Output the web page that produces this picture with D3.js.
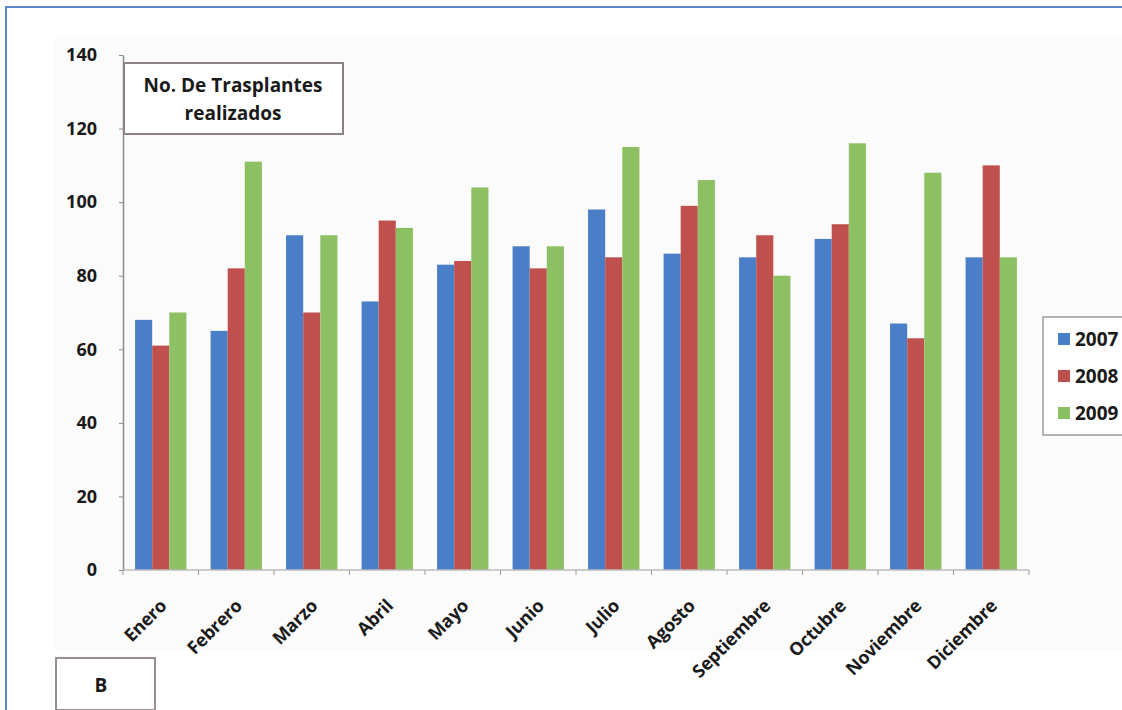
<!DOCTYPE html>
<html>
<head>
<meta charset="utf-8">
<script src="https://cdn.jsdelivr.net/npm/d3@7"></script>
<style>
  html, body { margin: 0; padding: 0; background: #ffffff; }
  svg { display: block; }
  text { font-family: "Open Sans", "DejaVu Sans", sans-serif; font-weight: 700; fill: #1a1a1a; }
</style>
</head>
<body>
<svg id="chart" width="1122" height="710"></svg>
<script>
// Monthly transplant counts per year
const months = ["Enero", "Febrero", "Marzo", "Abril", "Mayo", "Junio", "Julio",
                "Agosto", "Septiembre", "Octubre", "Noviembre", "Diciembre"];
const years = ["2007", "2008", "2009"];
const values2007 = [68, 65, 91, 73, 83, 88, 98, 86, 85, 90, 67, 85];
const values2008 = [61, 82, 70, 95, 84, 82, 85, 99, 91, 94, 63, 110];
const values2009 = [70, 111, 91, 93, 104, 88, 115, 106, 80, 116, 108, 85];
const yTicks = [0, 20, 40, 60, 80, 100, 120, 140];
const colors = ["#4a7ec6", "#c0504d", "#8cc063"];

const series = [values2007, values2008, values2009];
const rows = months.map((m, i) => ({ month: m, vals: series.map(s => s[i]) }));

const svg = d3.select("#chart");

// page frame
svg.append("line").attr("x1", 6).attr("x2", 1122).attr("y1", 7).attr("y2", 7)
  .attr("stroke", "#5b87c5").attr("stroke-width", 2);
svg.append("line").attr("x1", 6).attr("x2", 6).attr("y1", 6).attr("y2", 710)
  .attr("stroke", "#5b87c5").attr("stroke-width", 2);

// chart area background
svg.append("rect").attr("x", 55).attr("y", 36).attr("width", 1067).attr("height", 614)
  .attr("fill", "#fbfbfb");

const plot = { left: 123, right: 1029, top: 55, bottom: 570 };

const x0 = d3.scaleBand().domain(months).range([plot.left, plot.right])
  .paddingInner(0.32).paddingOuter(0.16);
const x1 = d3.scaleBand().domain(years).range([0, x0.bandwidth()]);
const y = d3.scaleLinear().domain([0, 140]).range([plot.bottom, plot.top]);

// bars
const groups = svg.append("g").selectAll("g").data(rows).join("g")
  .attr("transform", d => `translate(${x0(d.month)},0)`);
groups.selectAll("rect").data(d => d.vals.map((v, k) => ({ year: years[k], v, k })))
  .join("rect")
  .attr("x", d => x1(d.year))
  .attr("width", x1.bandwidth())
  .attr("y", d => y(d.v))
  .attr("height", d => y(0) - y(d.v))
  .attr("fill", d => colors[d.k]);

// y axis
const yAxis = svg.append("g").attr("transform", `translate(${plot.left},0)`)
  .call(d3.axisLeft(y).tickValues(yTicks).tickSize(4).tickPadding(22).tickSizeOuter(0));
yAxis.select(".domain").attr("stroke", "#8a8a8a").attr("stroke-width", 1.5);
yAxis.selectAll(".tick line").attr("stroke", "#8a8a8a");
yAxis.selectAll(".tick text").attr("font-size", 18).attr("font-weight", 700)
  .attr("fill", "#1a1a1a").style("font-family", "'Open Sans', sans-serif");

// x axis with ticks at category boundaries
const xAxisG = svg.append("g");
xAxisG.append("line").attr("x1", plot.left).attr("x2", plot.right)
  .attr("y1", plot.bottom).attr("y2", plot.bottom)
  .attr("stroke", "#bdbdbd").attr("stroke-width", 1.5);
const step = x0.step();
xAxisG.selectAll("line.b").data(d3.range(months.length + 1)).join("line")
  .attr("class", "b")
  .attr("x1", i => plot.left + i * step).attr("x2", i => plot.left + i * step)
  .attr("y1", plot.bottom).attr("y2", plot.bottom + 5)
  .attr("stroke", "#9a9a9a");
xAxisG.selectAll("text").data(months).join("text")
  .attr("transform", d => `translate(${x0(d) + x0.bandwidth() / 2 + 7},${plot.bottom + 37}) rotate(-45)`)
  .attr("text-anchor", "end")
  .attr("font-size", 18)
  .attr("letter-spacing", -0.2)
  .text(d => d);

// title box
svg.append("rect").attr("x", 124).attr("y", 63).attr("width", 219).attr("height", 71)
  .attr("fill", "#ffffff").attr("stroke", "#8c8080").attr("stroke-width", 2);
svg.append("text").attr("x", 233).attr("y", 92).attr("text-anchor", "middle")
  .attr("font-size", 19).text("No. De Trasplantes");
svg.append("text").attr("x", 233).attr("y", 120).attr("text-anchor", "middle")
  .attr("font-size", 19).text("realizados");

// legend (box runs past the right edge of the page)
const leg = svg.append("g");
leg.append("rect").attr("x", 1043).attr("y", 317).attr("width", 100).attr("height", 118)
  .attr("fill", "#ffffff").attr("stroke", "#9a9a9a").attr("stroke-width", 1.5);
const li = leg.selectAll("g").data(years).join("g")
  .attr("transform", (d, i) => `translate(1058,${339 + i * 37})`);
li.append("rect").attr("x", 0).attr("y", -6).attr("width", 12).attr("height", 12)
  .attr("fill", (d, i) => colors[i]);
li.append("text").attr("x", 17).attr("y", 7).attr("font-size", 19).text(d => d);

// panel letter box
svg.append("rect").attr("x", 56).attr("y", 658).attr("width", 99).attr("height", 52)
  .attr("fill", "#ffffff").attr("stroke", "#9a8f8f").attr("stroke-width", 2);
svg.append("text").attr("x", 101).attr("y", 692).attr("text-anchor", "middle")
  .attr("font-size", 19).text("B");
</script>
</body>
</html>
